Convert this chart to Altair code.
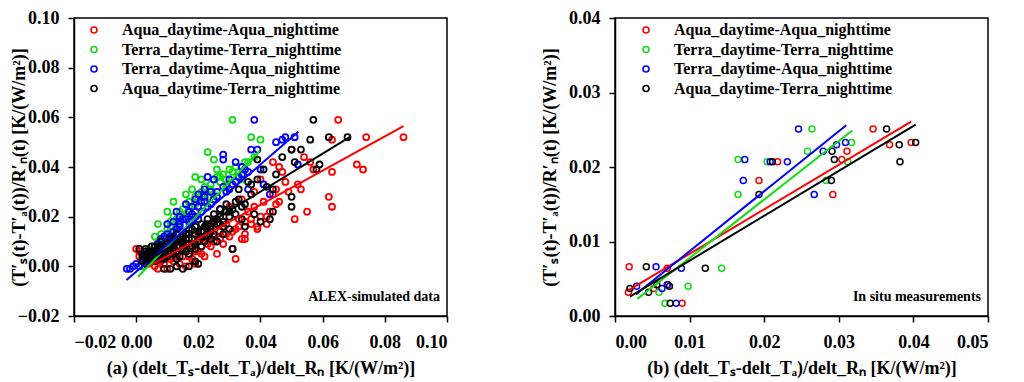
import altair as alt
import pandas as pd

SERIES = ["Aqua_daytime-Aqua_nighttime", "Terra_daytime-Terra_nighttime",
          "Terra_daytime-Aqua_nighttime", "Aqua_daytime-Terra_nighttime"]
COLORS = ["#ff0000", "#11dd11", "#0000ff", "#000000"]
FONT = "Liberation Serif"

# ---------------- panel (a): ALEX-simulated data ----------------
a_red_x = [0.000, 0.001, 0.001, 0.002, 0.003, 0.004, 0.005, 0.006, 0.007, 0.008, 0.009, 0.010, 0.011, 0.012,
           0.013, 0.014, 0.015, 0.016, 0.017, 0.018, 0.019, 0.020, 0.021, 0.022, 0.023, 0.024, 0.025, 0.026,
           0.027, 0.028, 0.029, 0.030, 0.031, 0.032, 0.033, 0.034, 0.035, 0.036, 0.037, 0.038, 0.039, 0.040,
           0.041, 0.042, 0.043, 0.044, 0.045, 0.046, 0.047, 0.048, 0.049, 0.050, 0.051, 0.052, 0.053, 0.054,
           0.055, 0.056, 0.057, 0.062, 0.063, 0.063, 0.063, 0.065, 0.071, 0.073, 0.074, 0.086, 0.032, 0.035,
           0.025, 0.030, 0.040, 0.044, 0.038, 0.046, 0.034, 0.045, 0.042, 0.039,
           0.003, 0.005, 0.007, 0.009, 0.011, 0.013, 0.015, 0.017, 0.019, 0.021, 0.023, 0.025, 0.027, 0.029,
           0.031, 0.033, 0.035, 0.037, 0.008, 0.012, 0.016, 0.020, 0.024, 0.028]
a_red_y = [0.007, 0.006, 0.004, 0.002, 0.005, 0.001, 0.003, 0.000, -0.001, 0.002, 0.004, -0.001, 0.006, 0.002,
           0.008, 0.001, 0.004, 0.000, 0.009, 0.003, 0.001, 0.006, 0.011, 0.004, 0.013, 0.008, 0.010, 0.005,
           0.014, 0.009, 0.017, 0.012, 0.007, 0.015, 0.019, 0.011, 0.013, 0.022, 0.017, 0.024, 0.015, 0.020,
           0.026, 0.017, 0.022, 0.029, 0.031, 0.026, 0.038, 0.034, 0.030, 0.047, 0.019, 0.033, 0.031, 0.044,
           0.022, 0.042, 0.039, 0.028, 0.024, 0.038, 0.051, 0.059, 0.041, 0.039, 0.052, 0.052, 0.003, 0.011,
           0.019, 0.024, 0.035, 0.042, 0.030, 0.040, 0.027, 0.025, 0.020, 0.016,
           0.003, 0.002, 0.004, 0.001, 0.003, 0.005, 0.007, 0.004, 0.006, 0.005, 0.009, 0.012, 0.011, 0.013,
           0.014, 0.016, 0.018, 0.019, 0.006, 0.009, 0.011, 0.013, 0.016, 0.018]

a_green_x = [0.002, 0.003, 0.004, 0.004, 0.005, 0.006, 0.006, 0.007, 0.007, 0.008, 0.009, 0.010, 0.010, 0.011,
             0.012, 0.012, 0.013, 0.014, 0.015, 0.016, 0.016, 0.017, 0.018, 0.019, 0.019, 0.020, 0.021, 0.021,
             0.022, 0.023, 0.024, 0.025, 0.025, 0.026, 0.026, 0.027, 0.028, 0.029, 0.030, 0.031, 0.031, 0.032,
             0.033, 0.034, 0.035, 0.036, 0.037, 0.038, 0.040, 0.008, 0.011, 0.014, 0.017, 0.020, 0.023,
             0.005, 0.007, 0.009, 0.011, 0.013, 0.015, 0.017, 0.019, 0.022, 0.024, 0.027, 0.029]
a_green_y = [0.000, 0.002, 0.004, 0.007, 0.006, 0.008, 0.012, 0.010, 0.017, 0.013, 0.012, 0.015, 0.022, 0.018,
             0.026, 0.020, 0.017, 0.022, 0.023, 0.029, 0.021, 0.026, 0.031, 0.036, 0.028, 0.027, 0.035, 0.030,
             0.032, 0.046, 0.033, 0.043, 0.029, 0.036, 0.039, 0.034, 0.037, 0.032, 0.039, 0.059, 0.038, 0.040,
             0.038, 0.035, 0.042, 0.042, 0.052, 0.044, 0.051, 0.009, 0.014, 0.018, 0.022, 0.024, 0.028,
             0.004, 0.008, 0.011, 0.016, 0.019, 0.020, 0.024, 0.025, 0.029, 0.031, 0.036, 0.035]

a_blue_x = [-0.003, -0.002, -0.001, 0.000, 0.001, 0.002, 0.003, 0.004, 0.005, 0.006, 0.007, 0.008, 0.009, 0.010,
            0.011, 0.012, 0.013, 0.014, 0.015, 0.016, 0.017, 0.018, 0.019, 0.020, 0.021, 0.022, 0.023, 0.024,
            0.025, 0.026, 0.027, 0.028, 0.028, 0.029, 0.030, 0.031, 0.032, 0.033, 0.034, 0.035, 0.036, 0.036,
            0.037, 0.038, 0.039, 0.040, 0.041, 0.043, 0.045, 0.047, 0.048, 0.051, 0.052, 0.003, 0.005, 0.007,
            0.009, 0.011, 0.013, 0.015, 0.017, 0.019, 0.021, 0.023, 0.025, 0.006, 0.008, 0.010, 0.012, 0.014,
            0.018, 0.020, 0.022,
            0.004, 0.006, 0.008, 0.010, 0.012, 0.014, 0.016, 0.018, 0.020, 0.022, 0.024, 0.026, 0.028, 0.030,
            0.032, 0.034]
a_blue_y = [-0.001, -0.001, 0.000, 0.001, 0.000, 0.003, 0.002, 0.005, 0.003, 0.008, 0.006, 0.011, 0.008, 0.017,
            0.012, 0.014, 0.022, 0.016, 0.019, 0.025, 0.018, 0.021, 0.027, 0.029, 0.022, 0.028, 0.036, 0.030,
            0.035, 0.030, 0.023, 0.045, 0.043, 0.030, 0.035, 0.033, 0.042, 0.036, 0.037, 0.039, 0.031, 0.038,
            0.047, 0.059, 0.047, 0.039, 0.033, 0.029, 0.050, 0.051, 0.052, 0.052, 0.041, 0.004, 0.006, 0.009,
            0.012, 0.010, 0.015, 0.014, 0.022, 0.020, 0.026, 0.024, 0.027, 0.004, 0.006, 0.013, 0.018, 0.020,
            0.024, 0.019, 0.031,
            0.002, 0.005, 0.008, 0.010, 0.012, 0.017, 0.019, 0.018, 0.024, 0.026, 0.025, 0.028, 0.032, 0.031,
            0.034, 0.040]

a_black_x = [0.001, 0.002, 0.003, 0.004, 0.005, 0.006, 0.007, 0.008, 0.009, 0.010, 0.011, 0.012, 0.013, 0.014,
             0.015, 0.016, 0.017, 0.018, 0.019, 0.020, 0.021, 0.022, 0.023, 0.024, 0.025, 0.026, 0.027, 0.028,
             0.029, 0.030, 0.031, 0.032, 0.033, 0.034, 0.035, 0.036, 0.037, 0.038, 0.039, 0.040, 0.041, 0.042,
             0.043, 0.044, 0.044, 0.045, 0.047, 0.050, 0.050, 0.050, 0.051, 0.053, 0.056, 0.057, 0.058, 0.059,
             0.062, 0.068, 0.003, 0.004, 0.005, 0.006, 0.007, 0.008, 0.009, 0.010, 0.011, 0.012, 0.013, 0.014,
             0.015, 0.016, 0.017, 0.018, 0.019, 0.020, 0.021, 0.022, 0.024, 0.026, 0.028, 0.030, 0.032, 0.034,
             0.002, 0.004, 0.006, 0.008, 0.009, 0.011, 0.013, 0.015, 0.017, 0.019, 0.023, 0.027, 0.029, 0.031,
             0.033, 0.035, 0.037, 0.039,
             0.002, 0.003, 0.004, 0.005, 0.006, 0.007, 0.008, 0.009, 0.010, 0.011, 0.012, 0.013, 0.014, 0.015,
             0.016, 0.017, 0.018, 0.019, 0.020, 0.021, 0.022, 0.023, 0.024, 0.025, 0.026, 0.027, 0.003, 0.005,
             0.007, 0.009, 0.011, 0.013, 0.015, 0.017, 0.019, 0.021, 0.023, 0.025, 0.028, 0.030]
a_black_y = [0.007, 0.005, 0.003, 0.006, 0.002, 0.008, 0.004, 0.010, -0.001, 0.007, -0.001, 0.011, 0.000, 0.008,
             -0.001, 0.013, 0.000, 0.015, 0.002, 0.001, 0.017, 0.012, 0.019, 0.014, 0.021, 0.010, 0.023, 0.018,
             0.025, 0.015, 0.007, 0.021, 0.027, 0.024, 0.016, 0.034, 0.029, 0.021, 0.043, 0.018, 0.039, 0.032,
             0.019, 0.022, 0.031, 0.037, 0.044, 0.047, 0.028, 0.024, 0.042, 0.047, 0.051, 0.059, 0.039, 0.041,
             0.052, 0.052, 0.001, 0.004, 0.005, 0.002, 0.007, 0.003, 0.006, 0.009, 0.005, 0.007, 0.010, 0.004,
             0.009, 0.006, 0.011, 0.008, 0.013, 0.010, 0.008, 0.016, 0.011, 0.017, 0.013, 0.020, 0.026, 0.019,
             0.002, 0.003, 0.005, 0.007, 0.003, 0.009, 0.006, 0.012, 0.005, 0.009, 0.015, 0.020, 0.022, 0.023,
             0.031, 0.025, 0.033, 0.035,
             0.004, 0.006, 0.002, 0.004, 0.006, 0.003, 0.008, 0.005, 0.004, 0.008, 0.005, 0.003, 0.011, 0.007,
             0.009, 0.013, 0.011, 0.007, 0.014, 0.012, 0.010, 0.017, 0.015, 0.013, 0.019, 0.017, 0.007, 0.008,
             0.005, 0.008, 0.011, 0.013, 0.010, 0.015, 0.016, 0.014, 0.012, 0.018, 0.016, 0.022]

# fitted lines (start / end points)
a_fit_x0 = [0.004, 0.0006, -0.0031, 0.002]
a_fit_y0 = [0.000, -0.0042, -0.0055, 0.001]
a_fit_x1 = [0.086, 0.0398, 0.0522, 0.0688]
a_fit_y1 = [0.0565, 0.0466, 0.0542, 0.0521]

# ---------------- panel (b): in situ measurements ----------------
b_red_x = [0.0018, 0.0019, 0.0052, 0.0070, 0.0071, 0.0090, 0.0193, 0.0218, 0.0292, 0.0304, 0.0311, 0.0346,
           0.0368, 0.0397]
b_red_y = [0.0032, 0.0066, 0.0037, 0.0064, 0.0042, 0.0017, 0.0182, 0.0207, 0.0163, 0.0210, 0.0221, 0.0251,
           0.0230, 0.0233]
b_green_x = [0.0059, 0.0067, 0.0098, 0.0143, 0.0165, 0.0165, 0.0204, 0.0258, 0.0264, 0.0283, 0.0312, 0.0317]
b_green_y = [0.0032, 0.0017, 0.0040, 0.0064, 0.0210, 0.0163, 0.0207, 0.0221, 0.0251, 0.0182, 0.0207, 0.0233]
b_blue_x = [0.0029, 0.0055, 0.0063, 0.0070, 0.0082, 0.0089, 0.0172, 0.0174, 0.0208, 0.0231, 0.0246, 0.0267,
            0.0279, 0.0297, 0.0309]
b_blue_y = [0.0040, 0.0066, 0.0037, 0.0042, 0.0017, 0.0064, 0.0182, 0.0210, 0.0207, 0.0207, 0.0251, 0.0163,
            0.0221, 0.0230, 0.0233]
b_black_x = [0.0020, 0.0042, 0.0045, 0.0056, 0.0073, 0.0074, 0.0121, 0.0193, 0.0211, 0.0290, 0.0291, 0.0294,
             0.0364, 0.0381, 0.0382, 0.0403]
b_black_y = [0.0037, 0.0066, 0.0032, 0.0042, 0.0040, 0.0017, 0.0064, 0.0163, 0.0207, 0.0182, 0.0221, 0.0210,
             0.0251, 0.0230, 0.0207, 0.0233]

b_fit_x0 = [0.0019, 0.0030, 0.0028, 0.0020]
b_fit_y0 = [0.0035, 0.0023, 0.0029, 0.0026]
b_fit_x1 = [0.0397, 0.0318, 0.0310, 0.0403]
b_fit_y1 = [0.0261, 0.0249, 0.0256, 0.0257]

a_x_ticks = [-0.02, -0.01, 0.00, 0.01, 0.02, 0.03, 0.04, 0.05, 0.06, 0.07, 0.08, 0.09, 0.10]
a_y_ticks = [-0.02, -0.01, 0.00, 0.01, 0.02, 0.03, 0.04, 0.05, 0.06, 0.07, 0.08, 0.09, 0.10]
b_x_ticks = [0.000, 0.005, 0.010, 0.015, 0.020, 0.025, 0.030, 0.035, 0.040, 0.045, 0.050]
b_y_ticks = [0.000, 0.005, 0.010, 0.015, 0.020, 0.025, 0.030, 0.035, 0.040]

A_XTITLE = "(a) (delt_Tₛ-delt_Tₐ)/delt_Rₙ [K/(W/m²)]"
B_XTITLE = "(b) (delt_Tₛ-delt_Tₐ)/delt_Rₙ [K/(W/m²)]"
YTITLE = "(T′ₛ(t)-T′ₐ(t))/R′ₙ(t) [K/(W/m²)]"

W, H = 373, 298


def points_df(xs_list, ys_list):
    frames = []
    for s, xs, ys in zip(SERIES, xs_list, ys_list):
        frames.append(pd.DataFrame({"series": s, "x": xs, "y": ys}))
    return pd.concat(frames, ignore_index=True)


def lines_df(x0, y0, x1, y1):
    rows = []
    for i, s in enumerate(SERIES):
        rows.append({"series": s, "x": x0[i], "y": y0[i]})
        rows.append({"series": s, "x": x1[i], "y": y1[i]})
    return pd.DataFrame(rows)


def make_axis(values, mult, title, orient, title_pad):
    test = f"round(datum.value*{mult}) % 2 != 0"
    return alt.Axis(
        values=values, title=title, grid=False, orient=orient,
        labelExpr=f"({test}) ? '' : format(datum.value, '.2f')",
        tickSize={"condition": {"test": test, "value": 3}, "value": 6},
        labelPadding=11 if orient == "bottom" else 9,
        titlePadding=title_pad,
    )


def panel(pdf, ldf, xdom, ydom, xticks, yticks, xmult, ymult, xtitle, note, ytitle_pad, sw, lx):
    cscale = alt.Scale(domain=SERIES, range=COLORS)
    xenc = alt.X("x:Q", scale=alt.Scale(domain=xdom, nice=False, zero=False),
                 axis=make_axis(xticks, xmult, xtitle, "bottom", 8))
    yenc = alt.Y("y:Q", scale=alt.Scale(domain=ydom, nice=False, zero=False),
                 axis=make_axis(yticks, ymult, YTITLE, "left", ytitle_pad))
    pts = alt.Chart(pdf).mark_point(shape="circle", filled=False, size=36, strokeWidth=sw, opacity=1).encode(
        x=xenc, y=yenc,
        color=alt.Color("series:N", scale=cscale, sort=SERIES,
                        legend=alt.Legend(title=None, orient="none", legendX=lx, legendY=4, offset=0,
                                          symbolType="circle", symbolSize=36, symbolStrokeWidth=1.6,
                                          labelFont=FONT, labelFontSize=16, labelFontWeight="bold",
                                          labelColor="black", labelOffset=20, rowPadding=3.5,
                                          labelLimit=400)),
    )
    lns = alt.Chart(ldf).mark_line(strokeWidth=2).encode(
        x="x:Q", y="y:Q",
        stroke=alt.Stroke("series:N", scale=cscale, legend=None),
        detail="series:N",
    )
    txt = alt.Chart(pd.DataFrame({"t": [note]})).mark_text(
        align="right", baseline="middle", font=FONT, fontSize=14, fontWeight="bold", color="black"
    ).encode(x=alt.value(W - 7), y=alt.value(H - 19), text="t:N")
    return alt.layer(pts, lns, txt).properties(width=W, height=H)


left = panel(points_df([a_red_x, a_green_x, a_blue_x, a_black_x], [a_red_y, a_green_y, a_blue_y, a_black_y]),
             lines_df(a_fit_x0, a_fit_y0, a_fit_x1, a_fit_y1),
             [-0.02, 0.10], [-0.02, 0.10], a_x_ticks, a_y_ticks, 100, 100, A_XTITLE,
             "ALEX-simulated data", -11, 1.8, 12)
right = panel(points_df([b_red_x, b_green_x, b_blue_x, b_black_x], [b_red_y, b_green_y, b_blue_y, b_black_y]),
              lines_df(b_fit_x0, b_fit_y0, b_fit_x1, b_fit_y1),
              [0.0, 0.05], [0.0, 0.04], b_x_ticks, b_y_ticks, 200, 200, B_XTITLE,
              "In situ measurements", 9, 1.5, 23)

chart = alt.hconcat(left, right, spacing=91).resolve_scale(
    x="independent", y="independent", color="independent", stroke="independent"
).resolve_legend(color="independent").configure_view(
    stroke="black", strokeWidth=1.5
).configure_axis(
    labelFont=FONT, labelFontSize=18, labelFontWeight="bold", labelColor="black",
    titleFont=FONT, titleFontSize=18, titleFontWeight="bold", titleColor="black",
    domainColor="black", domainWidth=1.5, tickColor="black", tickWidth=1.5,
).properties(background="white", padding={"left": 1, "top": 0, "right": 0, "bottom": 0})

chart.save("out.html", embed_options={"renderer": "svg", "actions": False})
